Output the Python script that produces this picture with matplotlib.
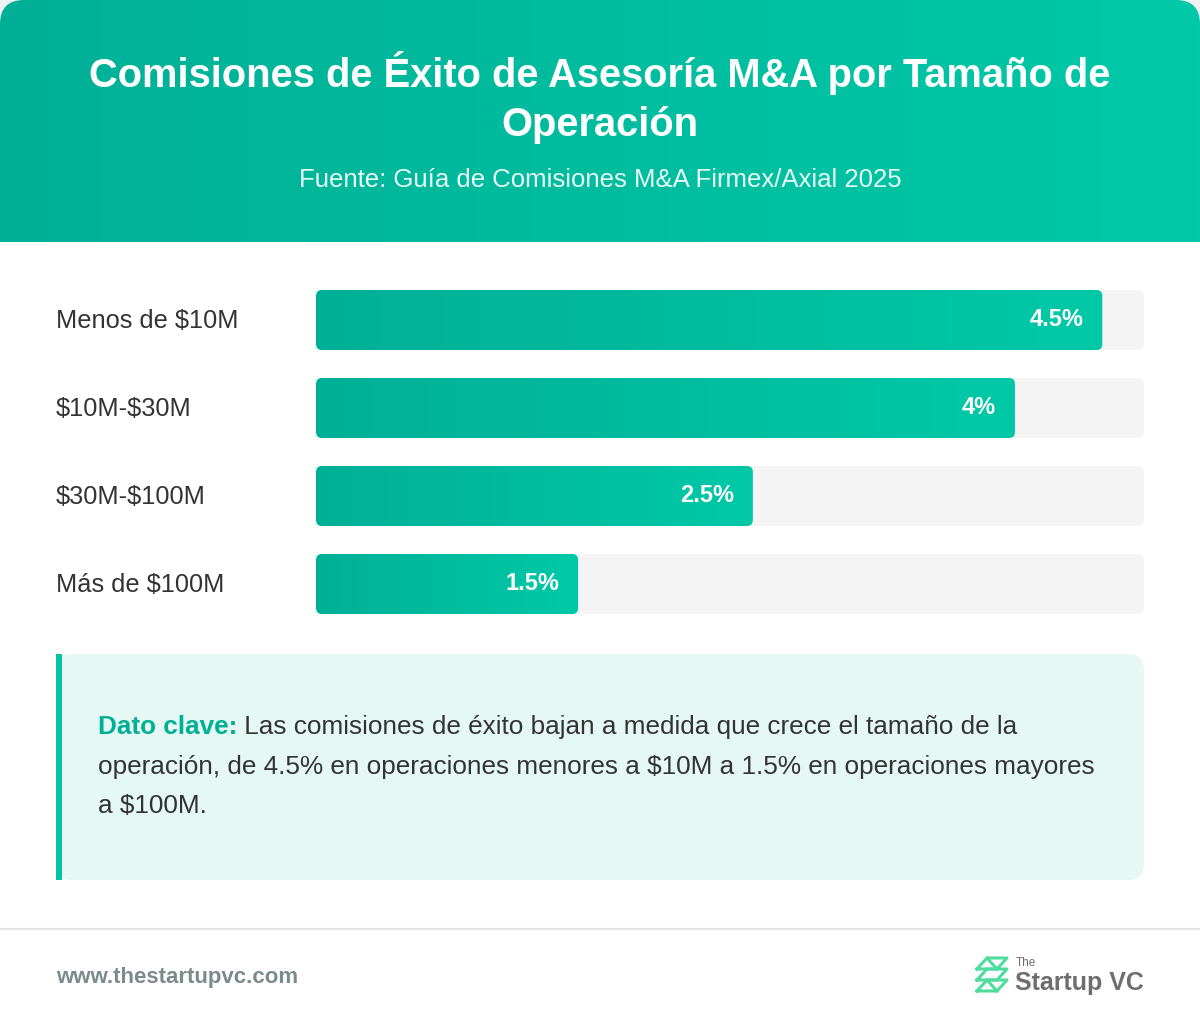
import numpy as np
import matplotlib
matplotlib.use("Agg")
import matplotlib.pyplot as plt
from matplotlib.patches import FancyBboxPatch, Rectangle

categories = ["Menos de \\$10M", "\\$10M-\\$30M", "\\$30M-\\$100M", "Más de \\$100M"]
fees = [4.5, 4.0, 2.5, 1.5]
fee_labels = ["4.5%", "4%", "2.5%", "1.5%"]
title_lines = ["Comisiones de Éxito de Asesoría M&A por Tamaño de", "Operación"]
subtitle = "Fuente: Guía de Comisiones M&A Firmex/Axial 2025"
key_lead = "Dato clave:"
key_lines = [" Las comisiones de éxito bajan a medida que crece el tamaño de la",
             "operación, de 4.5% en operaciones menores a \\$10M a 1.5% en operaciones mayores",
             "a \\$100M."]

plt.rcParams["font.family"] = ["Liberation Sans", "DejaVu Sans"]
W, H = 1200, 1028
fig = plt.figure(figsize=(W / 100, H / 100), dpi=100)
bg = fig.add_axes([0, 0, 1, 1])
bg.set_xlim(0, W)
bg.set_ylim(H, 0)
bg.axis("off")

teal_a = np.array([0x00, 0xb0, 0x96]) / 255
teal_b = np.array([0x00, 0xc9, 0xa7]) / 255

def gradient(x0, x1, y0, y1, clip, z=2):
    t = np.linspace(0, 1, 256)
    img = (teal_a[None, :] * (1 - t[:, None]) + teal_b[None, :] * t[:, None])[None, :, :]
    im = bg.imshow(img, extent=(x0, x1, y1, y0), aspect="auto", zorder=z)
    im.set_clip_path(clip)

# card + header
card = FancyBboxPatch((0, 0), W, H, boxstyle="round,pad=0,rounding_size=24",
                      fc="white", ec="none", zorder=0)
bg.add_patch(card)
gradient(0, W, 0, 242, card, z=1)
bg.add_patch(Rectangle((0, 242), W, H - 242, fc="white", ec="none", zorder=1.5))
bg.text(600, 73, title_lines[0], ha="center", va="center", fontsize=28.7,
        fontweight="bold", color="white", zorder=3)
bg.text(600, 125, title_lines[1], ha="center", va="center", fontsize=28.7,
        fontweight="bold", color="white", zorder=3)
bg.text(600, 180, subtitle, ha="center", va="center", fontsize=18.5,
        color="#e8fbf6", zorder=3)

# bar axes: track spans 316..1144 px, rows centred at 320..584 px
ax = fig.add_axes([316 / W, 1 - 614 / H, 828 / W, 324 / H])
ax.set_xlim(0, max(fees) * 1.053)
pad = 30 / 88
ax.set_ylim(len(fees) - 1 + pad, -pad)
ax.axis("off")
ax.patch.set_alpha(0)
ypos = np.arange(len(fees))
tracks = ax.barh(ypos, [max(fees) * 1.053] * len(fees), height=60 / 88, color="none")
bars = ax.barh(ypos, fees, height=60 / 88, color="none")

fig.canvas.draw()
to_px = lambda x, y: bg.transData.inverted().transform(ax.transData.transform((x, y)))
for i, (tr, br) in enumerate(zip(tracks, bars)):
    (tx0, ty0), (tx1, ty1) = to_px(tr.get_x(), tr.get_y()), to_px(tr.get_x() + tr.get_width(), tr.get_y() + tr.get_height())
    ty0, ty1 = min(ty0, ty1), max(ty0, ty1)
    bg.add_patch(FancyBboxPatch((tx0, ty0), tx1 - tx0, ty1 - ty0,
                                boxstyle="round,pad=0,rounding_size=6",
                                fc="#f4f4f4", ec="none", zorder=2))
    bx1 = to_px(br.get_width(), 0)[0]
    clip = FancyBboxPatch((tx0, ty0), bx1 - tx0, ty1 - ty0,
                          boxstyle="round,pad=0,rounding_size=6",
                          fc="none", ec="none", transform=bg.transData)
    bg.add_patch(clip)
    gradient(tx0, bx1, ty0, ty1, clip, z=3)
    yc = (ty0 + ty1) / 2
    bg.text(bx1 - 19, yc, fee_labels[i], ha="right", va="center", fontsize=17,
            fontweight="bold", color="white", zorder=4)
    bg.text(56, yc + 1, categories[i], ha="left", va="center", fontsize=18.3,
            color="#333333", zorder=4)

# key insight box
bg.add_patch(FancyBboxPatch((56, 654), 1088, 226, boxstyle="round,pad=0,rounding_size=16",
                            fc="#e5f8f3", ec="none", zorder=2))
bg.add_patch(Rectangle((56, 654), 6, 226, fc="#00c4a2", ec="none", zorder=3))
lead = bg.text(98, 727, key_lead, ha="left", va="center", fontsize=18.8,
               fontweight="bold", color="#00b095", zorder=4)
fig.canvas.draw()
lead_w = lead.get_window_extent().width  # dpi 100 -> px equals data px
bg.text(98 + lead_w, 727, key_lines[0], ha="left", va="center", fontsize=18.8,
        color="#333333", zorder=4)
for k, line in enumerate(key_lines[1:]):
    bg.text(98, 767 + 39 * k, line, ha="left", va="center", fontsize=18.8,
            color="#333333", zorder=4)

# footer
bg.plot([0, W], [929, 929], color="#e4e4e4", lw=1.5, zorder=2)
bg.text(56, 977, "www.thestartupvc.com", ha="left", va="center", fontsize=16,
        fontweight="bold", color="#7b8a8b", zorder=4)
g = "#4fdc9f"
lx, ly = 977, 958
for dy in (0, 11, 22):
    bg.plot([lx, lx + 10, lx + 30, lx + 20, lx], [ly + 11 + dy, ly + dy, ly + dy, ly + 11 + dy, ly + 11 + dy],
            color=g, lw=2.2, zorder=4, solid_joinstyle="round")
bg.plot([lx + 10, lx + 20], [ly, ly + 11], color=g, lw=2.2, zorder=4)
bg.plot([lx + 10, lx + 20], [ly + 22, ly + 33], color=g, lw=2.2, zorder=4)
bg.text(1016, 963, "The", ha="left", va="center", fontsize=8.5, color="#6e6e6e", zorder=4)
bg.text(1015, 983, "Startup VC", ha="left", va="center", fontsize=18,
        fontweight="semibold", color="#6e6e6e", zorder=4)

fig.savefig("out.png", dpi=100, facecolor="#f0f0f0")
